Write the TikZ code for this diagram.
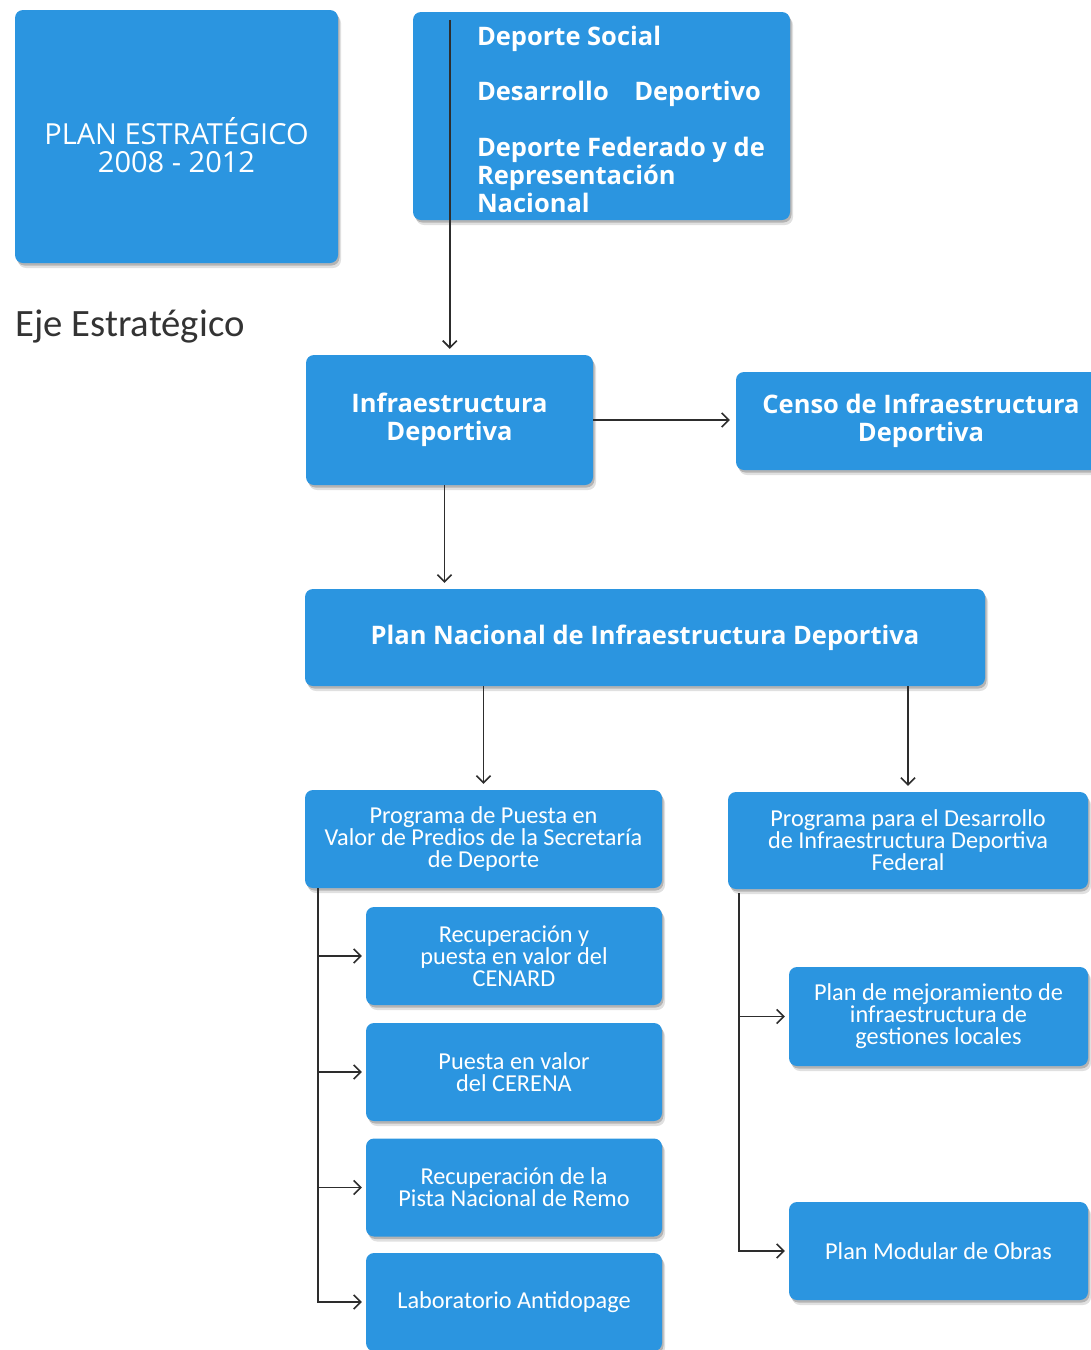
\documentclass[tikz,border=0pt]{standalone}
\usepackage{fontspec}
\setmainfont{Carlito}
\newfontfamily\boxfont{Open Sans}
\usetikzlibrary{arrows.meta,shadows}
\definecolor{planblue}{RGB}{43,149,224}
\definecolor{linegray}{RGB}{45,45,45}
\tikzset{
	bluebox/.style={fill=planblue, rounded corners=8pt, text=white, align=center, inner sep=4pt,
		drop shadow={shadow xshift=3pt, shadow yshift=-5pt, opacity=0.12, fill=black},
		drop shadow={shadow xshift=1.5pt, shadow yshift=-2.5pt, opacity=0.2, fill=black}},
	headfont/.style={font={\boxfont\bfseries\fontsize{25.5}{28}\selectfont}},
	headbox/.style={bluebox, headfont},
	subbox/.style={bluebox, minimum width=296pt, minimum height=98pt, font={\fontsize{24.3}{22}\selectfont\lineskiplimit=-50pt}},
	arr/.style={line width=1.6pt, color=linegray, -{Straight Barb[length=7pt,width=14pt]}, shorten >=6pt},
}

\begin{document}
\begin{tikzpicture}[x=1pt, y=-1pt]
			%%%%% START %%%%%
			\useasboundingbox (0,0) rectangle (1091,1350);
			
			\node[bluebox, minimum width=323pt, minimum height=253pt] (plan) at (176.5, 136.5) {};
			\node[align=center, text=white, inner sep=0pt, font={\boxfont\fontsize{29}{28}\selectfont}] (plantext) at ([yshift=-9pt]plan.center) {PLAN ESTRATÉGICO\\2008 - 2012};
			\node[text=black!80, anchor=west, font={\fontsize{38.7}{40}\selectfont}] (eje) at (12, 327) {Eje Estratégico};
			
			\node[bluebox, minimum width=377pt, minimum height=208pt] (ejes) at (601.5, 116) {};
			\node[anchor=west, align=left, text=white, inner sep=0pt, headfont] (ejestext) at ([xshift=64pt, yshift=-3pt]ejes.west) {Deporte Social\\[27pt]Desarrollo\quad Deportivo\\[28pt]Deporte Federado y de\\Representación\\Nacional};
			
			\node[headbox, minimum width=287pt, minimum height=130pt] (infra) at (449.5, 420) {Infraestructura\\Deportiva};
			\node[headbox, minimum width=370pt, minimum height=98pt] (censo) at (921, 421) {Censo de Infraestructura\\Deportiva};
			
			\node[headbox, minimum width=680pt, minimum height=97pt] (plannac) at (645, 637.5) {Plan Nacional de Infraestructura Deportiva};
			
			\node[subbox, minimum width=357pt] (predios) at (483.5, 839) {Programa de Puesta en\\Valor de Predios de la Secretaría\\de Deporte};
			\node[subbox, minimum width=360pt, minimum height=97pt] (federal) at (908, 840.5) {Programa para el Desarrollo\\de Infraestructura Deportiva\\Federal};
			
			\node[subbox] (cenard) at (514, 956) {Recuperación y\\puesta en valor del\\CENARD};
			\node[subbox] (cerena) at (514, 1072) {Puesta en valor\\del CERENA};
			\node[subbox] (remo) at (514, 1187.5) {Recuperación de la\\Pista Nacional de Remo};
			\node[subbox] (antidop) at (514, 1302) {Laboratorio Antidopage};
			
			\node[subbox, minimum width=299pt, minimum height=99pt] (locales) at (938.5, 1016.5) {Plan de mejoramiento de\\infraestructura de\\gestiones locales};
			\node[subbox, minimum width=299pt] (modular) at (938.5, 1251) {Plan Modular de Obras};
			
			\coordinate (ejesdrop) at ([xshift=37pt, yshift=-8pt]ejes.north west);
			\draw[arr] (ejesdrop) -- (ejesdrop |- infra.north);
			\draw[arr] (infra.east) -- (infra.east -| censo.west);
			\draw[arr] ([xshift=-5pt]infra.south) -- ([xshift=-5pt]infra.south |- plannac.north);
			
			\draw[arr] (predios.north |- plannac.south) -- (predios.north);
			\draw[arr] (federal.north |- plannac.south) -- (federal.north);
			
			\coordinate (predtrunk) at ([xshift=13pt]predios.south west);
			\foreach \sub in {cenard, cerena, remo, antidop}
				\draw[arr, shorten >=4pt] (predtrunk) |- (\sub.west);
			
			\coordinate (fedtrunk) at ([xshift=11pt, yshift=-4pt]federal.south west);
			\foreach \sub in {locales, modular}
				\draw[arr, shorten >=4pt] (fedtrunk) |- (\sub.west);
			
			%%%%% END %%%%%
\end{tikzpicture}
\end{document}
